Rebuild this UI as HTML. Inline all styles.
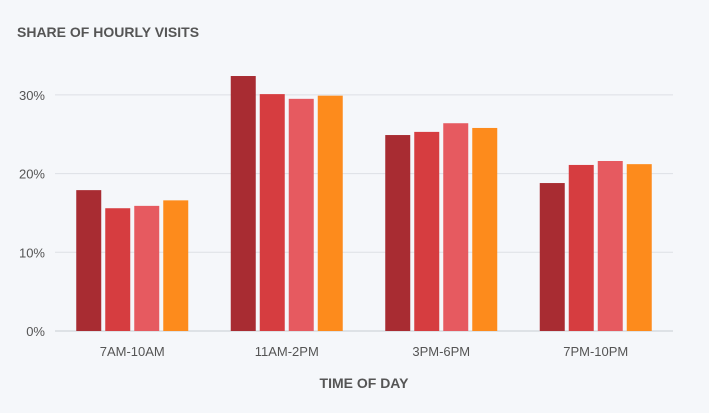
<!DOCTYPE html>
<html><head><meta charset="utf-8"><style>
body{margin:0;background:#f5f7fa;font-family:"Liberation Sans",sans-serif;}
svg{display:block}
</style></head><body>
<svg id="c" width="709" height="413">
<rect width="709" height="413" fill="#f5f7fa"/>
<text x="17" y="37" font-size="14" font-weight="bold" fill="#555">SHARE OF HOURLY VISITS</text>
<text x="364" y="388" font-size="14" font-weight="bold" fill="#555" text-anchor="middle">TIME OF DAY</text>
</svg>
<script>
const categories=["7AM-10AM","11AM-2PM","3PM-6PM","7PM-10PM"];
const series1=[17.9,32.4,24.9,18.8];
const series2=[15.6,30.1,25.3,21.1];
const series3=[15.9,29.5,26.4,21.6];
const series4=[16.6,29.9,25.8,21.2];
const yTicks=[0,10,20,30];
const yTickLabels=["0%","10%","20%","30%"];
const series=[series1,series2,series3,series4];
const colors=["#a82c32","#d63d40","#e65a60","#fd8b1c"];
const svg=document.getElementById('c');
const NS="http://www.w3.org/2000/svg";
const left=55,right=673,y0=331,pxPer=7.87;
const y=v=>y0-v*pxPer;
const band=(right-left)/categories.length;
const xc=i=>left+band*(i+0.5);
function mk(t,a){const e=document.createElementNS(NS,t);for(const k in a)e.setAttribute(k,a[k]);svg.appendChild(e);return e;}
yTicks.forEach((t,i)=>{
 const l=mk('line',{x1:left,x2:right,y1:y(t),y2:y(t),stroke:t===0?'#c8ccd2':'#dde0e5','stroke-width':1});
 
 
 const tx=mk('text',{x:left-10,y:y(t)+5,'font-size':13,fill:'#555','text-anchor':'end'});
 tx.textContent=yTickLabels[i];
 
 
});
const bw=25,gap=4;
categories.forEach((c,i)=>{
 const total=4*bw+3*gap,start=xc(i)-total/2;
 series.forEach((s,j)=>{
  const r=mk('rect',{x:start+j*(bw+gap),y:y(s[i]),width:bw,height:y0-y(s[i]),fill:colors[j]});
  
  
 });
 const tx=mk('text',{x:xc(i),y:356,'font-size':13,fill:'#555','text-anchor':'middle'});
 tx.textContent=c;
 
 
});
</script>
</body></html>
